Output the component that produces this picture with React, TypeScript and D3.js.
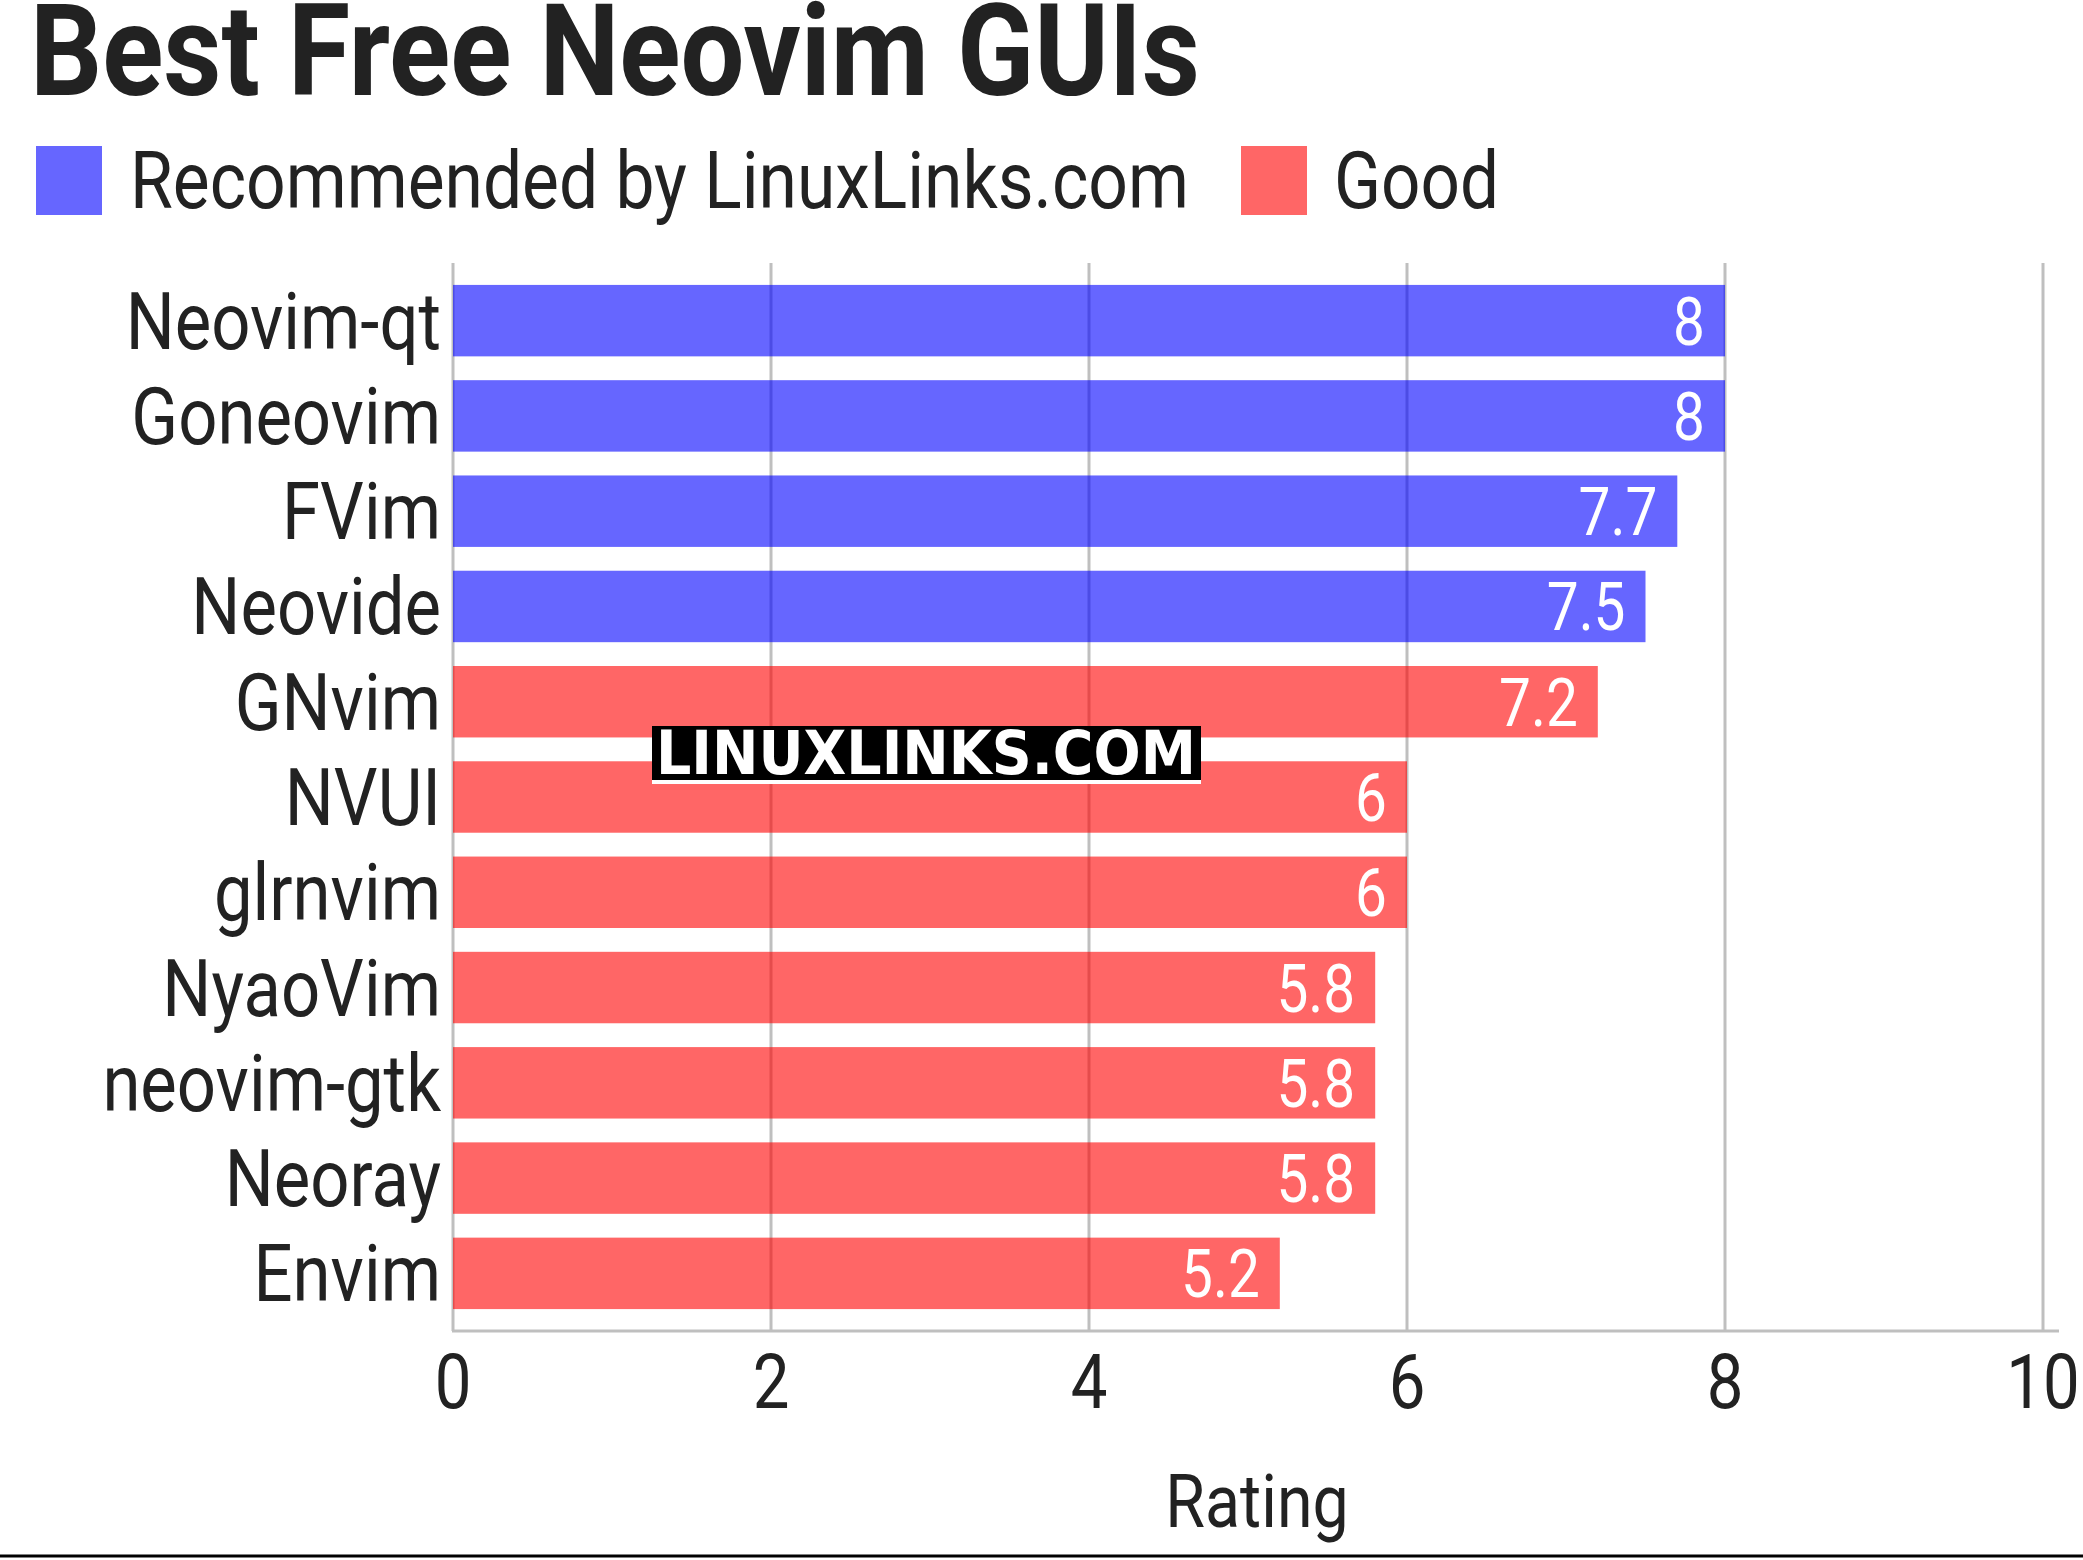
import React, { useEffect } from "react";
import * as d3 from "d3";

const categories = ["Neovim-qt", "Goneovim", "FVim", "Neovide", "GNvim", "NVUI", "glrnvim", "NyaoVim", "neovim-gtk", "Neoray", "Envim"];
const ratings = [8, 8, 7.7, 7.5, 7.2, 6, 6, 5.8, 5.8, 5.8, 5.2];
const groups = ["rec", "rec", "rec", "rec", "good", "good", "good", "good", "good", "good", "good"];
const legendKeys = ["rec", "good"];
const legendLabels = ["Recommended by LinuxLinks.com", "Good"];
const xTicks = [0, 2, 4, 6, 8, 10];
const title = "Best Free Neovim GUIs";
const xTitle = "Rating";
const watermark = "LINUXLINKS.COM";

const W = 2083;
const H = 1560;
const SX = 0.86;
const FONT = "Roboto, 'Noto Sans', sans-serif";
const TEXT = "#222222";

const color = d3.scaleOrdinal<string, string>().domain(legendKeys).range(["#0000ff", "#ff0000"]);

function CText(props: { x: number; y: number; size: number; anchor?: string; fill?: string; weight?: number; sx?: number; children: any }) {
  const { x, y, size, anchor = "start", fill = TEXT, weight = 400, sx = SX, children } = props;
  return (
    <text
      transform={`translate(${x},${y}) scale(${sx},1)`}
      textAnchor={anchor}
      fontSize={size}
      fontWeight={weight}
      fill={fill}
      fontFamily={FONT}
    >
      {children}
    </text>
  );
}

export default function App() {
  useEffect(() => {
    document.body.style.margin = "0";
  }, []);

  const x = d3.scaleLinear().domain([0, 10]).range([453, 2043]);
  const y = d3.scaleBand<string>().domain(categories).range([263, 1331]).paddingInner(0.25).paddingOuter(0.23);
  const bw = y.bandwidth();

  return (
    <svg width={W} height={H} style={{ display: "block", background: "#fff" }}>
      <rect x={0} y={0} width={W} height={H} fill="#fff" />
      {/* title */}
      <text x={30} y={95} fontSize={128} fontWeight={700} fill={TEXT} fontFamily={FONT} textLength={1170} lengthAdjust="spacingAndGlyphs">
        {title}
      </text>
      {/* legend */}
      <rect x={36} y={146} width={66} height={69} fill={color("rec")} fillOpacity={0.6} />
      <CText x={130} y={208} size={79} sx={0.88}>{legendLabels[0]}</CText>
      <rect x={1241} y={146} width={66} height={69} fill={color("good")} fillOpacity={0.6} />
      <CText x={1334} y={208} size={79} sx={0.875}>{legendLabels[1]}</CText>

      {/* gridlines */}
      {xTicks.map((t) => (
        <line key={"g" + t} x1={x(t)} x2={x(t)} y1={263} y2={1331} stroke="#bfbfbf" strokeWidth={3} />
      ))}
      <line x1={452} x2={2059} y1={1331} y2={1331} stroke="#bfbfbf" strokeWidth={3} />

      {/* bars */}
      {categories.map((c, i) => (
        <rect key={c} x={x(0)} y={y(c)!} width={x(ratings[i]) - x(0)} height={bw} fill={color(groups[i])} fillOpacity={0.6} />
      ))}

      {/* value labels */}
      {categories.map((c, i) => (
        <CText key={"v" + c} x={x(ratings[i]) - 20} y={y(c)! + bw / 2 + 24} size={66} anchor="end" fill="#ffffff">
          {String(ratings[i])}
        </CText>
      ))}

      {/* category labels */}
      {categories.map((c) => (
        <CText key={"c" + c} x={441} y={y(c)! + bw / 2 + 28} size={80} anchor="end">
          {c}
        </CText>
      ))}

      {/* x tick labels */}
      {xTicks.map((t) => (
        <CText key={"t" + t} x={x(t)} y={1408} size={76} anchor="middle">
          {String(t)}
        </CText>
      ))}
      <CText x={1257} y={1527} size={75} anchor="middle">{xTitle}</CText>

      {/* watermark */}
      <rect x={652} y={726} width={549} height={58} fill="#ffffff" />
      <rect x={652} y={726} width={549} height={54} fill="#000000" />
      <text x={656} y={774} fontSize={60} fontWeight={700} fill="#ffffff" fontFamily="'DejaVu Sans', sans-serif" textLength={540} lengthAdjust="spacingAndGlyphs">
        {watermark}
      </text>

      {/* bottom rule */}
      <line x1={0} x2={W} y1={1556} y2={1556} stroke="#000" strokeWidth={3} />
    </svg>
  );
}
